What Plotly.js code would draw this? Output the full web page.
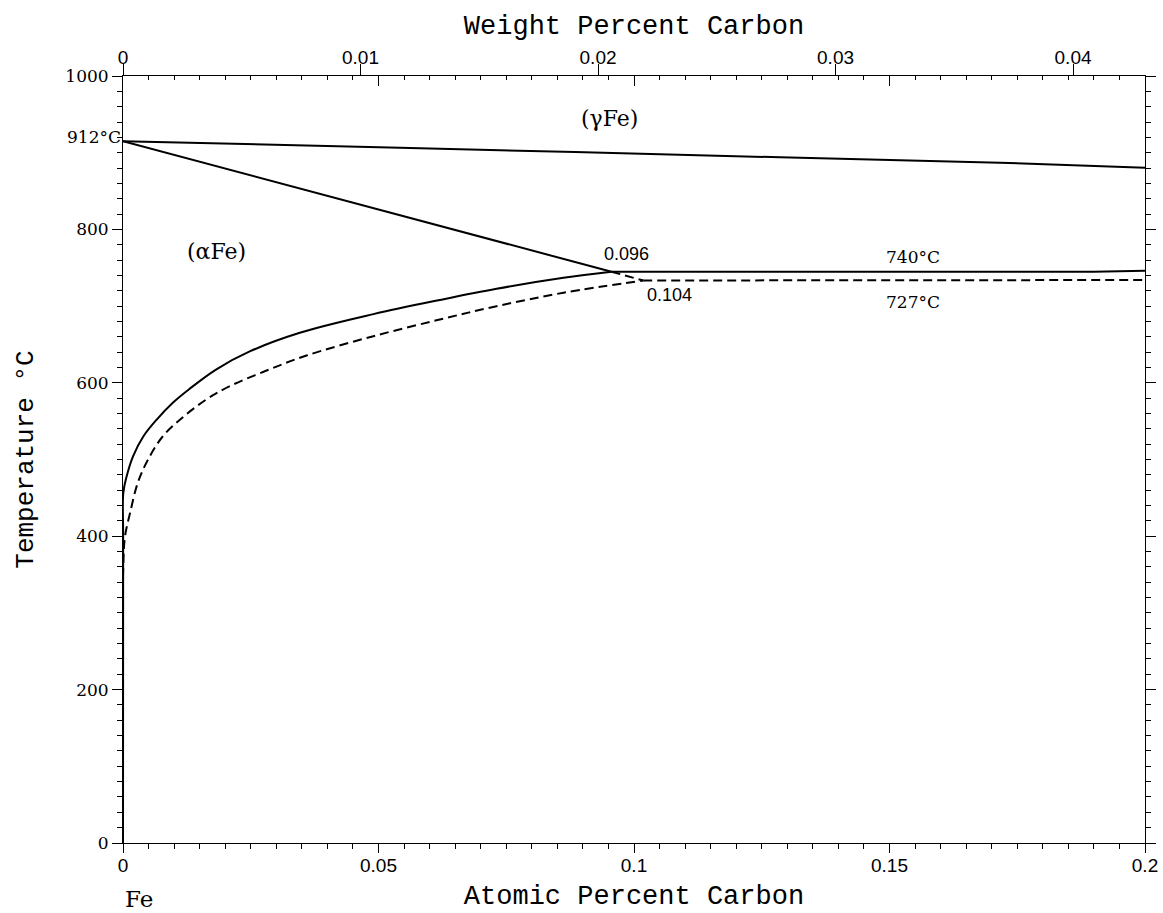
<!DOCTYPE html>
<html><head><meta charset="utf-8">
<script src="https://cdn.plot.ly/plotly-3.0.1.min.js"></script>
<style>body{margin:0;background:#fff}#chart{width:1163px;height:913px}</style>
</head><body><div id="chart"></div>
<script>
// Upper gamma boundary
const gammaX = [0, 0.0542, 0.1286, 0.1716, 0.2];
const gammaT = [915, 906.5, 894, 887, 880.5];
// alpha / (alpha+gamma) boundary
const agX = [0, 0.0956];
const agT = [915, 744.8];
// metastable extension (dashed)
const agMetaX = [0.0956, 0.1018];
const agMetaT = [744.8, 733.4];
// eutectoid horizontals
const eutX = [0.0956, 0.19, 0.2];
const eutT = [744.8, 744.8, 746];
const eutMetaX = [0.1018, 0.19, 0.2];
const eutMetaT = [733.4, 733.4, 734];
// solvus (solid)
const solvusX = [0, 0.00003, 0.00006, 0.00072, 0.00196, 0.0040, 0.0066, 0.0098, 0.0130, 0.0182, 0.0249, 0.0346, 0.0490, 0.0620, 0.0731, 0.0862, 0.0956];
const solvusT = [0, 400, 456.5, 478.2, 504.2, 530.3, 552.1, 574.3, 592, 617.3, 641.2, 665.2, 689.5, 708, 722.6, 736.9, 744.8];
// solvus (metastable, dashed)
const solvusMetaX = [0, 0.00005, 0.0004, 0.0014, 0.0029, 0.0049, 0.0078, 0.0117, 0.0162, 0.0207, 0.0281, 0.0359, 0.0490, 0.0620, 0.0731, 0.0862, 0.1018];
const solvusMetaT = [0, 360, 399.9, 430.8, 469.9, 499.9, 530.3, 555, 577.8, 595, 616, 635.5, 660.8, 682.5, 699.9, 717.4, 733.4];

// axis ticks
const atTicks = [0, 0.05, 0.1, 0.15, 0.2];
const atLabels = ['0', '0.05', '0.1', '0.15', '0.2'];
const wtTicks = [0, 0.01, 0.02, 0.03, 0.04];
const wtLabels = ['0', '0.01', '0.02', '0.03', '0.04'];
const tTicks = [0, 200, 400, 600, 800, 1000];
const atMax = 0.2;
const wtMax = 0.04303;

const solid = {color: '#000', width: 2};
const dashed = {color: '#000', width: 2, dash: '9px,5px'};
function tr(x, y, line, shape) {
  return {x: x, y: y, type: 'scatter', mode: 'lines', line: Object.assign({shape: shape || 'linear'}, line),
          showlegend: false, hoverinfo: 'skip', xaxis: 'x', yaxis: 'y', cliponaxis: false};
}
// invisible carrier traces so the overlaid axes get drawn
function carrier(xa, ya, x) {
  return {x: x, y: gammaT, type: 'scatter', mode: 'lines', opacity: 0, line: {width: 0},
          showlegend: false, hoverinfo: 'skip', xaxis: xa, yaxis: ya};
}
const data = [
  tr(gammaX, gammaT, solid, 'spline'),
  tr(agX, agT, solid),
  tr(agMetaX, agMetaT, dashed),
  tr(eutX, eutT, solid),
  tr(eutMetaX, eutMetaT, dashed),
  tr(solvusX, solvusT, solid, 'spline'),
  tr(solvusMetaX, solvusMetaT, dashed, 'spline'),
  carrier('x2', 'y', gammaX),
  carrier('x3', 'y', gammaX.map(v => v * wtMax / atMax)),
  carrier('x', 'y2', gammaX)
];

const serif = 'DejaVu Serif';
const sans = 'Liberation Sans';
const mono = 'Liberation Mono';
function ann(text, x, y, size, family, extra) {
  return Object.assign({text: text, x: x, y: y, xref: 'x', yref: 'y', showarrow: false,
    font: {family: family, size: size, color: '#000'}}, extra || {});
}
const layout = {
  width: 1163, height: 913,
  margin: {l: 123, r: 18, t: 76, b: 70},
  paper_bgcolor: '#fff', plot_bgcolor: '#fff',
  showlegend: false,
  xaxis: {
    range: [0, atMax], tickvals: atTicks, ticktext: atLabels,
    ticks: 'outside', ticklen: 9, tickcolor: '#000', tickwidth: 1,
    minor: {dtick: 0.005, tick0: 0, ticks: 'outside', ticklen: 5, tickcolor: '#000', tickwidth: 1, showgrid: false},
    showline: true, linecolor: '#000', linewidth: 1, showgrid: false, zeroline: false,
    tickfont: {family: sans, size: 19, color: '#000'}, ticklabelstandoff: -4,
    title: {text: 'Atomic Percent Carbon', font: {family: mono, size: 27, color: '#000'}, standoff: 10},
    automargin: false, fixedrange: true
  },
  xaxis2: {
    overlaying: 'x', side: 'top', anchor: 'y', range: [0, atMax], tickvals: atTicks,
    ticks: 'inside', ticklen: 10, tickcolor: '#000', tickwidth: 1, showticklabels: false,
    minor: {dtick: 0.005, tick0: 0, ticks: 'inside', ticklen: 4, tickcolor: '#000', tickwidth: 1, showgrid: false},
    showline: true, linecolor: '#000', linewidth: 1, showgrid: false, zeroline: false, automargin: false
  },
  xaxis3: {
    overlaying: 'x', side: 'top', anchor: 'y', range: [0, wtMax], tickvals: wtTicks, ticktext: wtLabels,
    ticks: 'outside', ticklen: 11, tickcolor: '#000', tickwidth: 1,
    showline: false, showgrid: false, zeroline: false,
    tickfont: {family: sans, size: 19, color: '#000'}, ticklabelstandoff: -8,
    title: {text: 'Weight Percent Carbon', font: {family: mono, size: 27, color: '#000'}, standoff: 4},
    automargin: false
  },
  yaxis: {
    range: [0, 1000], tickvals: tTicks,
    ticks: 'outside', ticklen: 10, tickcolor: '#000', tickwidth: 1,
    minor: {dtick: 20, tick0: 0, ticks: 'outside', ticklen: 5, tickcolor: '#000', tickwidth: 1, showgrid: false},
    showline: true, linecolor: '#000', linewidth: 1, showgrid: false, zeroline: false,
    tickfont: {family: serif, size: 17, color: '#000'},
    title: {text: 'Temperature °C', font: {family: mono, size: 26, color: '#000'}, standoff: 24},
    automargin: false, fixedrange: true
  },
  yaxis2: {
    overlaying: 'y', side: 'right', anchor: 'x', range: [0, 1000], tickvals: tTicks,
    ticks: 'outside', ticklen: 10, tickcolor: '#000', tickwidth: 1, showticklabels: false,
    minor: {dtick: 20, tick0: 0, ticks: 'outside', ticklen: 5, tickcolor: '#000', tickwidth: 1, showgrid: false},
    showline: true, linecolor: '#000', linewidth: 1, showgrid: false, zeroline: false, automargin: false
  },
  annotations: [
    ann('912°C', 0, 920, 17, serif, {xanchor: 'right', xshift: 0}),
    ann('(γFe)', 0.0953, 944, 22, serif),
    ann('(αFe)', 0.0183, 770.6, 22, serif),
    ann('0.096', 0.0986, 767.4, 18, sans),
    ann('0.104', 0.107, 714.5, 18, sans),
    ann('740°C', 0.1546, 764, 17, serif),
    ann('727°C', 0.1545, 705.4, 17, serif),
    ann('Fe', 0, -0.073, 23, serif, {yref: 'paper', xanchor: 'left', yanchor: 'middle', xshift: 0})
  ]
};
Plotly.newPlot('chart', data, layout, {staticPlot: true, displayModeBar: false});
</script>
</body></html>
